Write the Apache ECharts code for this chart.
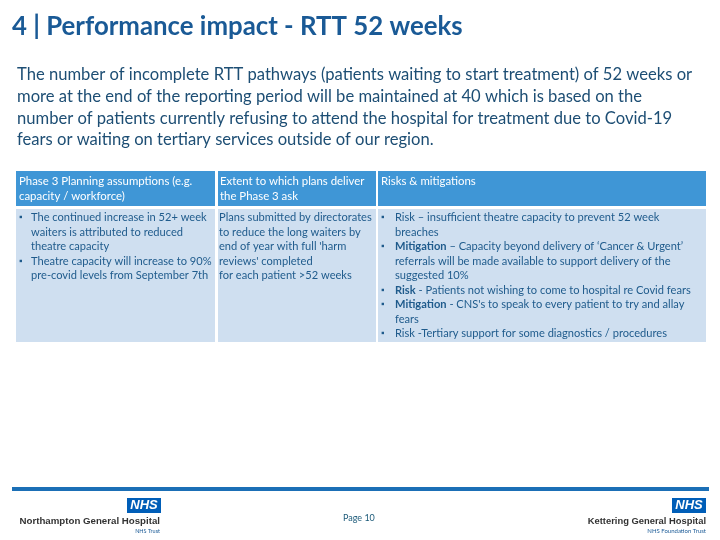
<!DOCTYPE html>
<html>
<head>
<meta charset="utf-8">
<script src="https://cdn.jsdelivr.net/npm/echarts@6/dist/echarts.min.js"></script>
<style>html,body{margin:0;padding:0;background:#fff}#c{width:720px;height:540px}</style>
</head>
<body>
<div id="c"></div>
<script>
// ---- content ----
var titleText = "4 | Performance impact - RTT 52 weeks";
var introLines = [
  "The number of incomplete RTT pathways (patients waiting to start treatment) of 52 weeks or",
  "more at the end of the reporting period will be maintained at 40 which is based on the",
  "number of patients currently refusing to attend the hospital for treatment due to Covid-19",
  "fears or waiting on tertiary services outside of our region."
];
var headerCol1 = ["Phase 3 Planning assumptions (e.g.", "capacity / workforce)"];
var headerCol2 = ["Extent to which plans deliver", "the Phase 3 ask"];
var headerCol3 = ["Risks & mitigations"];
// each line: [isBulletStart, text]
var bodyCol1 = [
  [true, "The continued increase in 52+ week"],
  [false, "waiters is attributed to reduced"],
  [false, "theatre capacity"],
  [true, "Theatre capacity will increase to 90%"],
  [false, "pre-covid levels from September 7th"]
];
var bodyCol2 = [
  "Plans submitted by directorates",
  "to reduce the long waiters by",
  "end of year with full 'harm",
  "reviews' completed",
  "for each patient >52 weeks"
];
var bodyCol3 = [
  [true, "Risk – insufficient theatre capacity to prevent 52 week"],
  [false, "breaches"],
  [true, "{b|Mitigation} – Capacity beyond delivery of ‘Cancer & Urgent’"],
  [false, "referrals will be made available to support delivery of the"],
  [false, "suggested 10%"],
  [true, "{b|Risk} - Patients not wishing to come to hospital re Covid fears"],
  [true, "{b|Mitigation} - CNS's to speak to every patient to try and allay"],
  [false, "fears"],
  [true, "Risk -Tertiary support for some diagnostics / procedures"]
];
var pageLabel = "Page 10";
var leftOrg = ["Northampton General Hospital", "NHS Trust"];
var rightOrg = ["Kettering General Hospital", "NHS Foundation Trust"];
var nhsMark = "NHS";

// ---- drawing ----
var FONT = "Lato, 'Open Sans', sans-serif";
var titleColor = "#1a5a96";
var paraColor = "#1d4e74";
var cellText = "#1f5b8c";
var headFill = "#3f96d6";
var bodyFill = "#cfdff0";
var nhsBlue = "#005eb8";

var els = [];
function txt(x, y, s, size, color, weight, extra) {
  var st = {x: x, y: y, text: s, fontFamily: FONT, fontSize: size, fill: color,
            fontWeight: weight || 'normal', verticalAlign: 'middle', align: 'left'};
  if (extra) for (var k in extra) st[k] = extra[k];
  els.push({type: 'text', silent: true, style: st});
}
function rect(x, y, w, h, fill) {
  els.push({type: 'rect', silent: true, shape: {x: x, y: y, width: w, height: h}, style: {fill: fill}});
}

txt(12, 27, titleText, 25.8, titleColor, 'bold');
introLines.forEach(function (l, i) { txt(17, 75 + i * 21.6, l, 16.6, paraColor); });

var cols = [[16, 199], [218, 158], [378, 328]];
cols.forEach(function (c) {
  rect(c[0], 171, c[1], 35, headFill);
  rect(c[0], 209, c[1], 133, bodyFill);
});
var HS = 11.4;
headerCol1.forEach(function (l, i) { txt(19, 181 + i * 15, l, HS, '#fff'); });
headerCol2.forEach(function (l, i) { txt(220, 181 + i * 15, l, HS, '#fff'); });
headerCol3.forEach(function (l, i) { txt(381, 181 + i * 15, l, HS, '#fff'); });

var LH = 14.5, Y0 = 217.5, BS = 11.1;
bodyCol1.forEach(function (r, i) {
  var y = Y0 + i * LH;
  if (r[0]) txt(19, y, "▪", 9, cellText);
  txt(31, y, r[1], BS, cellText);
});
bodyCol2.forEach(function (l, i) { txt(219, Y0 + i * LH, l, BS, cellText); });
bodyCol3.forEach(function (r, i) {
  var y = Y0 + i * LH;
  if (r[0]) txt(381, y, "▪", 9, cellText);
  txt(395, y, r[1], BS, cellText, 'normal', {rich: {b: {fontWeight: 'bold', fontFamily: FONT, fontSize: BS, fill: cellText}}});
});

// footer
rect(12, 487, 697, 4, "#1b6fb6");
txt(343, 518, pageLabel, 9, "#1d5b7a");

var SANS = "Arial, 'Liberation Sans', sans-serif";
// left logo
rect(127, 498, 34, 15, nhsBlue);
txt(144, 505.5, nhsMark, 13, '#fff', 'bold', {align: 'center', fontStyle: 'italic', fontFamily: SANS});
txt(160, 521, leftOrg[0], 9.7, '#333', 'bold', {align: 'right', fontFamily: SANS});
txt(160, 531, leftOrg[1], 5.5, '#1a5a96', 'normal', {align: 'right'});

// right logo
rect(672, 498, 34, 15, nhsBlue);
txt(689, 505.5, nhsMark, 13, '#fff', 'bold', {align: 'center', fontStyle: 'italic', fontFamily: SANS});
txt(706, 521, rightOrg[0], 9.4, '#333', 'bold', {align: 'right', fontFamily: SANS});
txt(706, 531, rightOrg[1], 6, '#1a5a96', 'normal', {align: 'right'});

var chart = echarts.init(document.getElementById('c'), null, {renderer: 'canvas'});
chart.setOption({animation: false, backgroundColor: '#fff', graphic: {elements: els}});
</script>
</body>
</html>
